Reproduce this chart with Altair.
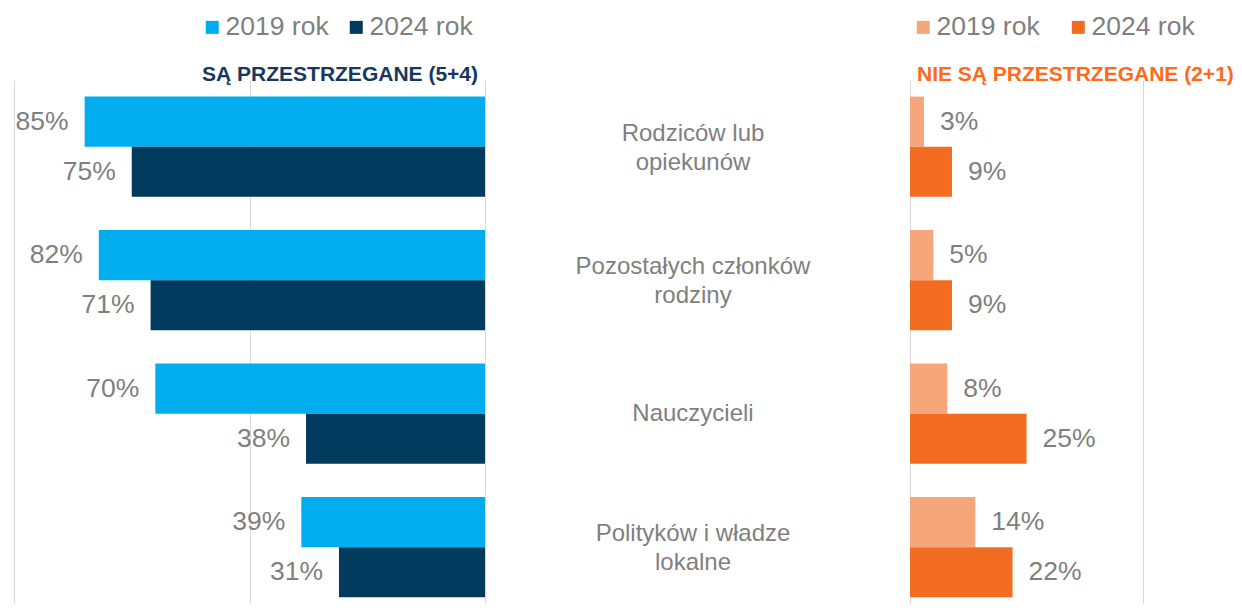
import altair as alt
import pandas as pd

categories = ["Rodziców lub opiekunów", "Pozostałych członków rodziny",
              "Nauczycieli", "Polityków i władze lokalne"]
category_labels = ["Rodziców lub\nopiekunów", "Pozostałych członków\nrodziny",
                   "Nauczycieli", "Polityków i władze\nlokalne"]
years = ["2019 rok", "2024 rok"]
observed_2019 = [85, 82, 70, 39]
observed_2024 = [75, 71, 38, 31]
not_observed_2019 = [3, 5, 8, 14]
not_observed_2024 = [9, 9, 25, 22]
left_title = "SĄ PRZESTRZEGANE (5+4)"
right_title = "NIE SĄ PRZESTRZEGANE (2+1)"

left_colors = ["#00aeef", "#003a5d"]
right_colors = ["#f5a67a", "#f26c22"]

FONT = "Liberation Sans"
GREY = "#7f7f7f"
H = 524


def long_table(v19, v24):
    rows = []
    for c, a, b in zip(categories, v19, v24):
        rows.append({"cat": c, "year": years[0], "v": a})
        rows.append({"cat": c, "year": years[1], "v": b})
    return pd.DataFrame(rows)


def y_scale():
    return alt.Scale(type="band", paddingInner=0.25, paddingOuter=0.0875,
                     align=0.71)


def panel(df, width, domain, reverse, colors, legend_x, col_pad, title,
          title_x, title_align, title_color, grid_values):
    y_enc = alt.Y("cat:N", sort=categories, axis=None, scale=y_scale())
    yoff = alt.YOffset("year:N", sort=years,
                       scale=alt.Scale(paddingInner=0, paddingOuter=0))
    x_enc = alt.X("v:Q",
                  scale=alt.Scale(domain=domain, reverse=reverse, clamp=True,
                                  nice=False, zero=True),
                  axis=alt.Axis(values=grid_values, grid=True,
                                gridColor="#d9d9d9", gridWidth=1,
                                labels=False, ticks=False, domain=False,
                                title=None))
    base = alt.Chart(df).encode(y=y_enc, yOffset=yoff)
    bars = base.mark_bar(opacity=1).encode(
        x=x_enc,
        color=alt.Color(
            "year:N", sort=years,
            scale=alt.Scale(domain=years, range=colors),
            legend=alt.Legend(orient="none", legendX=legend_x, legendY=-66,
                              direction="horizontal", title=None,
                              symbolType="square", symbolSize=169,
                              symbolStrokeWidth=0, symbolOpacity=1,
                              labelFont=FONT, labelFontSize=26.5,
                              labelColor=GREY, labelOffset=0,
                              columnPadding=col_pad, padding=0),
        ),
    )
    labels = base.transform_calculate(lab="datum.v + '%'").mark_text(
        align="right" if reverse else "left",
        dx=-16 if reverse else 16,
        baseline="middle", font=FONT, fontSize=26.5, color=GREY,
    ).encode(x=alt.X("v:Q"), text="lab:N")
    ttl = alt.Chart(pd.DataFrame({"t": [title]})).mark_text(
        align=title_align, baseline="alphabetic", font=FONT, fontSize=21,
        fontWeight="bold", color=title_color,
    ).encode(x=alt.value(title_x), y=alt.value(1), text="t:N")
    return alt.layer(bars, labels, ttl).properties(width=width, height=H)


left = panel(long_table(observed_2019, observed_2024), 471, [0, 100], True,
             left_colors, 185, 14, left_title, 464, "right", "#17375e",
             [0, 50, 100])
right = panel(long_table(not_observed_2019, not_observed_2024), 324,
              [0, 69.5], False, right_colors, 0, 25, right_title, 7, "left",
              "#ff6a1a", [0, 50])

mid_df = pd.DataFrame({
    "cat": categories,
    "label": category_labels,
    "lines": [lab.count("\n") + 1 for lab in category_labels],
})
mid_base = alt.Chart(mid_df).encode(
    y=alt.Y("cat:N", sort=categories, axis=None, scale=y_scale()),
    x=alt.value(208),
    text="label:N",
)
mid_style = dict(font=FONT, fontSize=24, color=GREY, lineBreak="\n",
                 lineHeight=29, align="center", baseline="middle")
mid_two = mid_base.transform_filter("datum.lines == 2").mark_text(
    dy=-13, **mid_style)
mid_one = mid_base.transform_filter("datum.lines == 1").mark_text(
    dy=0, **mid_style)
middle = alt.layer(mid_two, mid_one).properties(width=425, height=H)

chart = alt.hconcat(left, middle, right, spacing=0, bounds="flush").resolve_scale(
    color="independent", x="independent", y="shared"
).properties(
    padding={"left": 6, "top": 6, "right": 0, "bottom": 0},
    background="white",
).configure_view(strokeWidth=0)

chart.save("out.html", embed_options={"renderer": "svg", "actions": False})
